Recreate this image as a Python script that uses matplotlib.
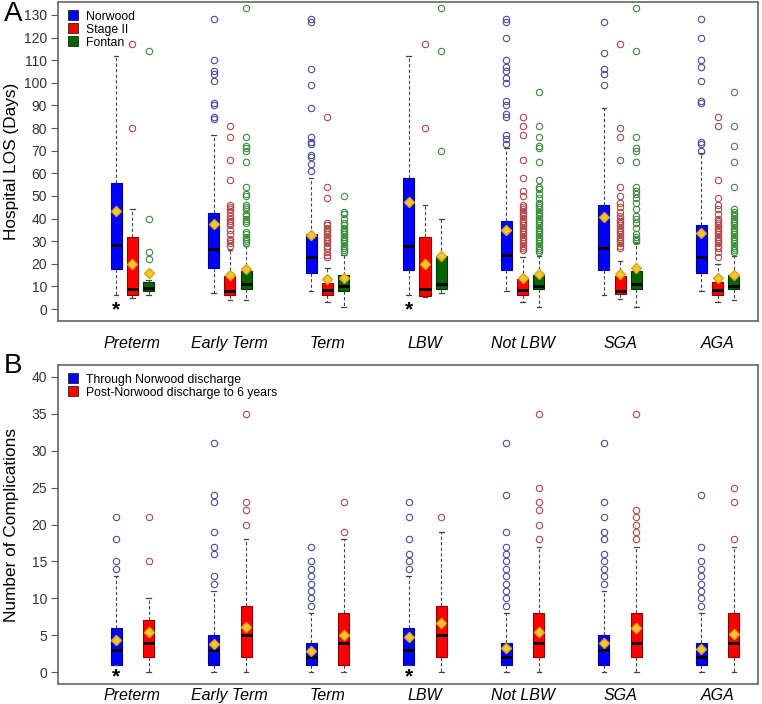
import matplotlib.pyplot as plt

plt.rcParams["font.family"] = ["Liberation Sans", "DejaVu Sans"]

groups = ["Preterm", "Early Term", "Term", "LBW", "Not LBW", "SGA", "AGA"]

# Panel A: hospital LOS (days)
nw_q1 = [17.5, 18, 16, 17.2, 17.2, 17.2, 16]
nw_med = [28.5, 26.5, 23, 27.7, 24, 27, 23]
nw_q3 = [55.5, 42.5, 33, 57.8, 39, 46, 37]
nw_lo = [6, 7, 8, 6, 8, 6, 8]
nw_hi = [112, 77, 58, 112, 71, 89, 69]
nw_mean = [43.5, 37.5, 32.8, 47.3, 34.8, 40.8, 33.4]
nw_out = [
    [],
    [84, 85, 90, 91, 101, 104, 105, 110, 128],
    [61, 64, 67, 68, 73, 74, 76, 89, 99, 106, 127, 128],
    [],
    [73, 75, 77, 85, 86, 90, 92, 100, 102, 105, 107, 110, 120, 127, 128],
    [99, 104, 106, 113, 127],
    [70, 73, 74, 91, 92, 101, 107, 110, 120, 128],
]

s2_q1 = [6, 6, 6.1, 5.9, 6, 6.5, 6]
s2_med = [9, 8, 8.4, 9, 8.2, 8.1, 8.2]
s2_q3 = [32, 14.5, 11.4, 32, 13.1, 14.7, 12.1]
s2_lo = [5, 4, 3, 5.2, 3, 4.3, 3]
s2_hi = [44, 26, 18, 46, 23, 21, 20]
s2_mean = [20, 15, 13.4, 20, 13.8, 15.5, 13.8]
s2_out = [
    [80, 117],
    [28, 29, 30, 31, 33, 35, 37, 38, 39, 40, 41, 43, 44, 45, 46, 57, 66, 76, 81],
    [23, 24, 25, 27, 28, 29, 30, 31, 32, 33, 34, 35, 36, 37, 38, 49, 54, 85],
    [80, 117],
    [26, 27, 28, 29, 30, 31, 32, 33, 34, 35, 36, 37, 38, 39, 40, 41, 42, 43,
     44, 45, 46, 50, 52, 58, 66, 77, 81, 85],
    [27, 28, 29, 30, 31, 32, 33, 34, 35, 36, 37, 38, 39, 40, 41, 43, 45, 47,
     50, 54, 66, 76, 80, 117],
    [23, 25, 27, 28, 29, 30, 31, 32, 33, 34, 35, 36, 37, 38, 39, 40, 42, 44,
     46, 49, 57, 81, 85],
]

fo_q1 = [8, 9, 8, 9, 9, 9, 9]
fo_med = [9.5, 11, 10, 11, 10, 11, 10]
fo_q3 = [12, 17, 15, 23.4, 15, 17, 15]
fo_lo = [6, 4, 1, 7, 1, 1, 4]
fo_hi = [13, 28, 24, 40, 23.5, 29, 23.5]
fo_mean = [16, 17.5, 13.8, 23.4, 15.5, 18, 15]
fo_out = [
    [22, 25, 40, 114],
    [29, 30, 31, 32, 33, 34, 38, 39, 40, 41, 42, 44, 45, 46, 50, 51, 54, 65,
     70, 71, 72, 76, 133],
    [25, 26, 27, 28, 29, 30, 31, 32, 33, 34, 35, 36, 37, 38, 40, 42, 43, 50],
    [70, 114, 133],
    [25, 26, 27, 28, 29, 30, 31, 32, 33, 34, 35, 36, 37, 38, 39, 40, 41, 42,
     43, 44, 45, 46, 47, 49, 51, 53, 54, 57, 65, 71, 72, 76, 81, 96],
    [30, 31, 32, 33, 36, 38, 40, 41, 44, 47, 49, 51, 52, 54, 65, 70, 71, 76,
     114, 133],
    [25, 26, 27, 28, 29, 30, 31, 32, 33, 34, 35, 36, 37, 38, 39, 40, 41, 42,
     43, 44, 54, 65, 72, 81, 96],
]

# Panel B: number of complications
th_q1 = [1, 1, 1, 1, 1, 1, 1]
th_med = [3, 3, 2, 3, 2, 3, 2]
th_q3 = [6, 5, 4, 6, 4, 5, 4]
th_lo = [1, 0, 0, 1, 0, 0, 0]
th_hi = [13, 11, 8, 13, 8, 11, 8]
th_mean = [4.3, 3.8, 2.9, 4.7, 3.3, 3.9, 3.2]
th_out = [
    [14, 15, 18, 21],
    [12, 13, 16, 17, 19, 23, 24, 31],
    [9, 10, 11, 12, 13, 14, 15, 17],
    [14, 15, 16, 18, 21, 23],
    [9, 10, 11, 12, 13, 14, 15, 16, 17, 19, 24, 31],
    [12, 13, 14, 15, 16, 18, 19, 21, 23, 31],
    [9, 10, 11, 12, 13, 14, 15, 17, 24],
]

po_q1 = [2, 2, 1, 2, 2, 2, 2]
po_med = [4, 5, 4, 5, 4, 4, 4]
po_q3 = [7, 9, 8, 9, 8, 8, 8]
po_lo = [0, 0, 0, 0, 0, 0, 0]
po_hi = [10, 18, 18, 19, 17, 17, 17]
po_mean = [5.5, 6.1, 5.0, 6.7, 5.5, 6.0, 5.2]
po_out = [
    [15, 21],
    [20, 22, 23, 35],
    [19, 23],
    [21],
    [18, 20, 22, 23, 25, 35],
    [18, 19, 20, 21, 22, 35],
    [18, 23, 25],
]


def make_stats(q1, med, q3, lo, hi, mean, out):
    stats = []
    for i in range(len(q1)):
        stats.append(dict(q1=q1[i], med=med[i], q3=q3[i], whislo=lo[i],
                          whishi=hi[i], mean=mean[i], fliers=out[i]))
    return stats


def draw(ax, stats, pos, face, edge, fcol):
    ax.bxp(
        stats, positions=pos, widths=0.68, capwidths=0.28,
        patch_artist=True, showmeans=True,
        boxprops=dict(facecolor=face, edgecolor=edge, linewidth=0.8),
        medianprops=dict(color="black", linewidth=2.2),
        whiskerprops=dict(color="#444444", linestyle=(0, (3, 2)), linewidth=0.8),
        capprops=dict(color="#444444", linewidth=0.9),
        meanprops=dict(marker="D", markerfacecolor="#F5C728",
                       markeredgecolor="#D9A520", markersize=5),
        flierprops=dict(marker="o", markerfacecolor="none",
                        markeredgecolor=fcol, markersize=4.6, markeredgewidth=0.8),
        zorder=3,
    )


fig = plt.figure(figsize=(7.62, 7.04), dpi=100)
ax1 = fig.add_axes([58 / 762, 1 - 321 / 704, 700 / 762, 319 / 704])
ax2 = fig.add_axes([58 / 762, 1 - 684 / 704, 700 / 762, 319 / 704])

centers = [2 + 6 * i for i in range(len(groups))]

draw(ax1, make_stats(nw_q1, nw_med, nw_q3, nw_lo, nw_hi, nw_mean, nw_out),
     [c - 1 for c in centers], "#0000FF", "#00008B", "#4B4B9E")
draw(ax1, make_stats(s2_q1, s2_med, s2_q3, s2_lo, s2_hi, s2_mean, s2_out),
     centers, "#FF0000", "#8B0000", "#B04848")
draw(ax1, make_stats(fo_q1, fo_med, fo_q3, fo_lo, fo_hi, fo_mean, fo_out),
     [c + 1 for c in centers], "#006400", "#003300", "#3E8A3E")

draw(ax2, make_stats(th_q1, th_med, th_q3, th_lo, th_hi, th_mean, th_out),
     [c - 1 for c in centers], "#0000FF", "#00008B", "#4B4B9E")
draw(ax2, make_stats(po_q1, po_med, po_q3, po_lo, po_hi, po_mean, po_out),
     [c + 1 for c in centers], "#FF0000", "#8B0000", "#B04848")

for ax in (ax1, ax2):
    ax.set_xlim(-2.57, 40.48)
    ax.set_xticks(centers)
    ax.set_xticklabels(groups, fontsize=11.5, style="italic")
    ax.tick_params(axis="y", labelsize=10, labelcolor="#333333", color="#555555",
                   length=5, width=0.8, pad=3)
    for sp in ax.spines.values():
        sp.set_color("#666666")
        sp.set_linewidth(1.2)

ax1.tick_params(axis="x", length=0, pad=11)
ax2.tick_params(axis="x", length=0, pad=3)

ax1.set_ylim(-5.3, 135.7)
ax1.set_yticks(range(0, 131, 10))
ax1.set_ylabel("Hospital LOS (Days)", fontsize=12.4)
ax1.yaxis.set_label_coords(-0.056, 0.5)
ax2.set_ylim(-1.6, 41.6)
ax2.set_yticks(range(0, 41, 5))
ax2.set_ylabel("Number of Complications", fontsize=12.4)
ax2.yaxis.set_label_coords(-0.056, 0.5)

# significance markers
ax1.text(1, -0.5, "*", ha="center", va="center", fontsize=15, fontweight="bold")
ax1.text(19, -0.5, "*", ha="center", va="center", fontsize=15, fontweight="bold")
ax2.text(1, -0.7, "*", ha="center", va="center", fontsize=15, fontweight="bold")
ax2.text(19, -0.7, "*", ha="center", va="center", fontsize=15, fontweight="bold")

leg1 = ["Norwood", "Stage II", "Fontan"]
leg1_cols = ["#0000FF", "#FF0000", "#006400"]
h1 = [plt.Line2D([], [], marker="s", linestyle="none", markersize=7,
                 markerfacecolor=c, markeredgecolor="#222222", markeredgewidth=0.6)
      for c in leg1_cols]
ax1.legend(h1, leg1, loc="upper left", frameon=False, fontsize=8.8,
           handlelength=1.0, handletextpad=0.6, labelspacing=0.08,
           borderaxespad=0.3)

leg2 = ["Through Norwood discharge", "Post-Norwood discharge to 6 years"]
leg2_cols = ["#0000FF", "#FF0000"]
h2 = [plt.Line2D([], [], marker="s", linestyle="none", markersize=7,
                 markerfacecolor=c, markeredgecolor="#222222", markeredgewidth=0.6)
      for c in leg2_cols]
ax2.legend(h2, leg2, loc="upper left", frameon=False, fontsize=8.8,
           handlelength=1.0, handletextpad=0.6, labelspacing=0.08,
           borderaxespad=0.3)

fig.text(13 / 762, 1 - 14 / 704, "A", fontsize=20, ha="center", va="center")
fig.text(13 / 762, 1 - 366 / 704, "B", fontsize=20, ha="center", va="center")

fig.savefig("out.png", dpi=100)
